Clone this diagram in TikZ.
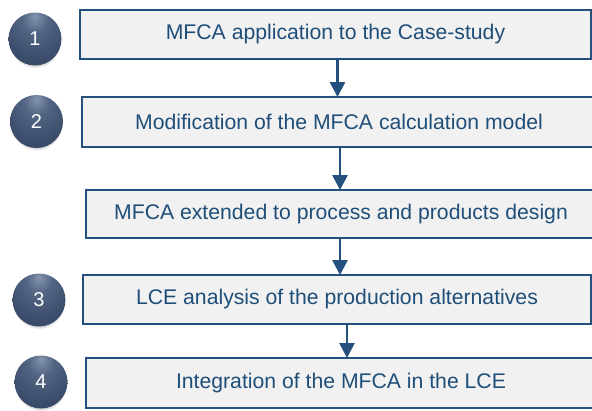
\documentclass[tikz,border=0pt]{standalone}
\usepackage{fontspec}
\setmainfont{Liberation Sans}
\usetikzlibrary{arrows.meta,shadows}

\definecolor{stepline}{HTML}{24507E}
\definecolor{steptext}{HTML}{1F4E79}
\definecolor{stepfill}{HTML}{F1F1F1}
\definecolor{orbhi}{HTML}{8595AD}
\definecolor{orbmid}{HTML}{526583}
\definecolor{orbbody}{HTML}{3C4E6C}
\definecolor{orbedge}{HTML}{2B3A54}

% sphere-like fill for the numbered badges, lit from the top
\pgfdeclareradialshading{orb}{\pgfpoint{0bp}{22bp}}{%
  color(0bp)=(orbhi); color(12bp)=(orbmid); color(30bp)=(orbbody);
  color(55bp)=(orbedge); color(72bp)=(orbedge)}

\begin{document}
\begin{tikzpicture}[x=1pt,y=-1pt,
  stepbox/.style={draw=stepline, line width=2.5pt, fill=stepfill,
    rectangle, outer sep=0pt, inner sep=0pt, text=steptext,
    font=\fontsize{21.2}{25}\selectfont},
  badge/.style={circle, minimum size=53pt, inner sep=0pt, shading=orb,
    circular drop shadow={shadow xshift=0pt, shadow yshift=-4pt,
      shadow scale=0.96, opacity=0.28, fill=black!70},
    text=white, font=\fontsize{20}{22}\selectfont},
  flow/.style={draw=stepline, line width=2.7pt,
    -{Triangle[width=15pt,length=15pt]}}]

\useasboundingbox (0,0) rectangle (592,410);

% process steps
\node[stepbox, minimum width=511pt, minimum height=49pt] (s1) at (335.5,34.5)
  {MFCA application to the Case-study};
\node[stepbox, minimum width=514pt, minimum height=50pt] (s2) at (339,122)
  {Modification of the MFCA calculation model};
\node[stepbox, minimum width=510pt, minimum height=48pt] (s3) at (341,214)
  {MFCA extended to process and products design};
\node[stepbox, minimum width=508pt, minimum height=49pt] (s4) at (337,299.5)
  {LCE analysis of the production alternatives};
\node[stepbox, minimum width=510pt, minimum height=50pt] (s5) at (341,383)
  {Integration of the MFCA in the LCE};

% numbered badges (upright y axis so the shading keeps its light on top)
\begin{scope}[y=1pt]
\node[badge] (n1) at (35,-39) {1};
\node[badge] (n2) at (36.5,-121.5) {2};
\node[badge] (n3) at (39,-300) {3};
\node[badge] (n4) at (41,-382) {4};
\end{scope}

% arrows between consecutive steps
\draw[flow] ([xshift=2pt]s1.south) -- ([xshift=2pt]s1.south |- s2.north);
\draw[flow] ([xshift=1pt]s2.south) -- ([xshift=1pt]s2.south |- s3.north);
\draw[flow] ([xshift=-1pt]s3.south) -- ([xshift=-1pt]s3.south |- s4.north);
\draw[flow] ([xshift=10pt]s4.south) -- ([xshift=10pt]s4.south |- s5.north);
\end{tikzpicture}
\end{document}
